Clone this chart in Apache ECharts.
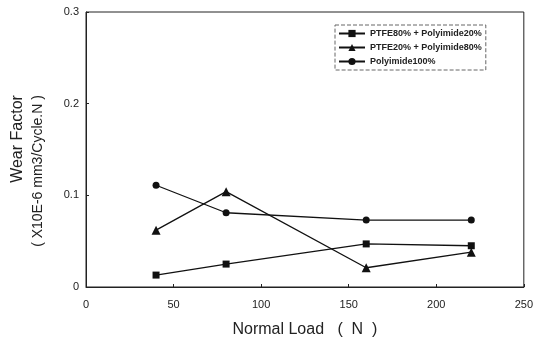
<!DOCTYPE html>
<html><head><meta charset="utf-8">
<script src="https://cdn.jsdelivr.net/npm/echarts@6/dist/echarts.min.js"></script>
<style>html,body{margin:0;padding:0;background:#fff}#c{width:536px;height:343px}</style>
</head><body><div id="c"></div>
<script>
const loads = [40, 80, 160, 220];
const seriesNames = ['PTFE80% + Polyimide20%', 'PTFE20% + Polyimide80%', 'Polyimide100%'];
const ptfe80 = [0.013, 0.025, 0.047, 0.045];
const ptfe20 = [0.062, 0.104, 0.021, 0.038];
const pi100 = [0.111, 0.081, 0.073, 0.073];
const xTicks = [0, 50, 100, 150, 200, 250];
const yTicks = [0, 0.1, 0.2, 0.3];
const xTitle = 'Normal Load   (  N  )';
const yTitle1 = 'Wear Factor';
const yTitle2 = '( X10E-6 mm3/Cycle.N )';

const font = 'Liberation Sans, Arial, sans-serif';
const pair = (vals) => loads.map((x, i) => [x, vals[i]]);
const symbols = ['rect', 'triangle', 'circle'];
const sizes = [7, 9, 7];
const data = [ptfe80, ptfe20, pi100];

const chart = echarts.init(document.getElementById('c'));
chart.setOption({
  animation: false,
  backgroundColor: '#fff',
  grid: { left: 86, right: 12, top: 12, bottom: 55, show: true, borderColor: '#222', borderWidth: 1 },
  xAxis: {
    type: 'value', min: xTicks[0], max: xTicks[xTicks.length - 1], interval: 50,
    name: xTitle, nameLocation: 'middle', nameGap: 35,
    nameTextStyle: { fontFamily: font, fontSize: 16, color: '#222' },
    axisLine: { lineStyle: { color: '#222' } },
    axisTick: { inside: true, length: 3, lineStyle: { color: '#222' } },
    axisLabel: { fontFamily: font, fontSize: 11, color: '#222', margin: 12 },
    splitLine: { show: false }
  },
  yAxis: {
    type: 'value', min: yTicks[0], max: yTicks[yTicks.length - 1], interval: 0.1,
    axisLine: { lineStyle: { color: '#222' } },
    axisTick: { inside: true, length: 3, lineStyle: { color: '#222' } },
    axisLabel: { fontFamily: font, fontSize: 11, color: '#222', margin: 7, formatter: v => v === 0 ? '0' : v.toFixed(1) },
    splitLine: { show: false }
  },
  graphic: [
    { type: 'text', x: 18, y: 139, rotation: Math.PI / 2,
      style: { text: yTitle1, font: '16px ' + font, fill: '#222', align: 'center', verticalAlign: 'middle' } },
    { type: 'text', x: 38, y: 171, rotation: Math.PI / 2,
      style: { text: yTitle2, font: '14px ' + font, fill: '#222', align: 'center', verticalAlign: 'middle' } }
  ],
  legend: {
    orient: 'vertical', left: 335, top: 25,
    itemWidth: 26, itemHeight: 9, itemGap: 5,
    padding: [4, 4, 4, 3],
    borderColor: '#666', borderWidth: 1, borderType: 'dashed',
    textStyle: { fontFamily: font, fontSize: 9, fontWeight: 'bold', color: '#222' },
    data: seriesNames
  },
  series: seriesNames.map((n, i) => ({
    name: n, type: 'line', data: pair(data[i]),
    symbol: symbols[i], symbolSize: sizes[i],
    lineStyle: { color: '#111', width: 1.3 },
    itemStyle: { color: '#111' }
  }))
});
</script></body></html>
